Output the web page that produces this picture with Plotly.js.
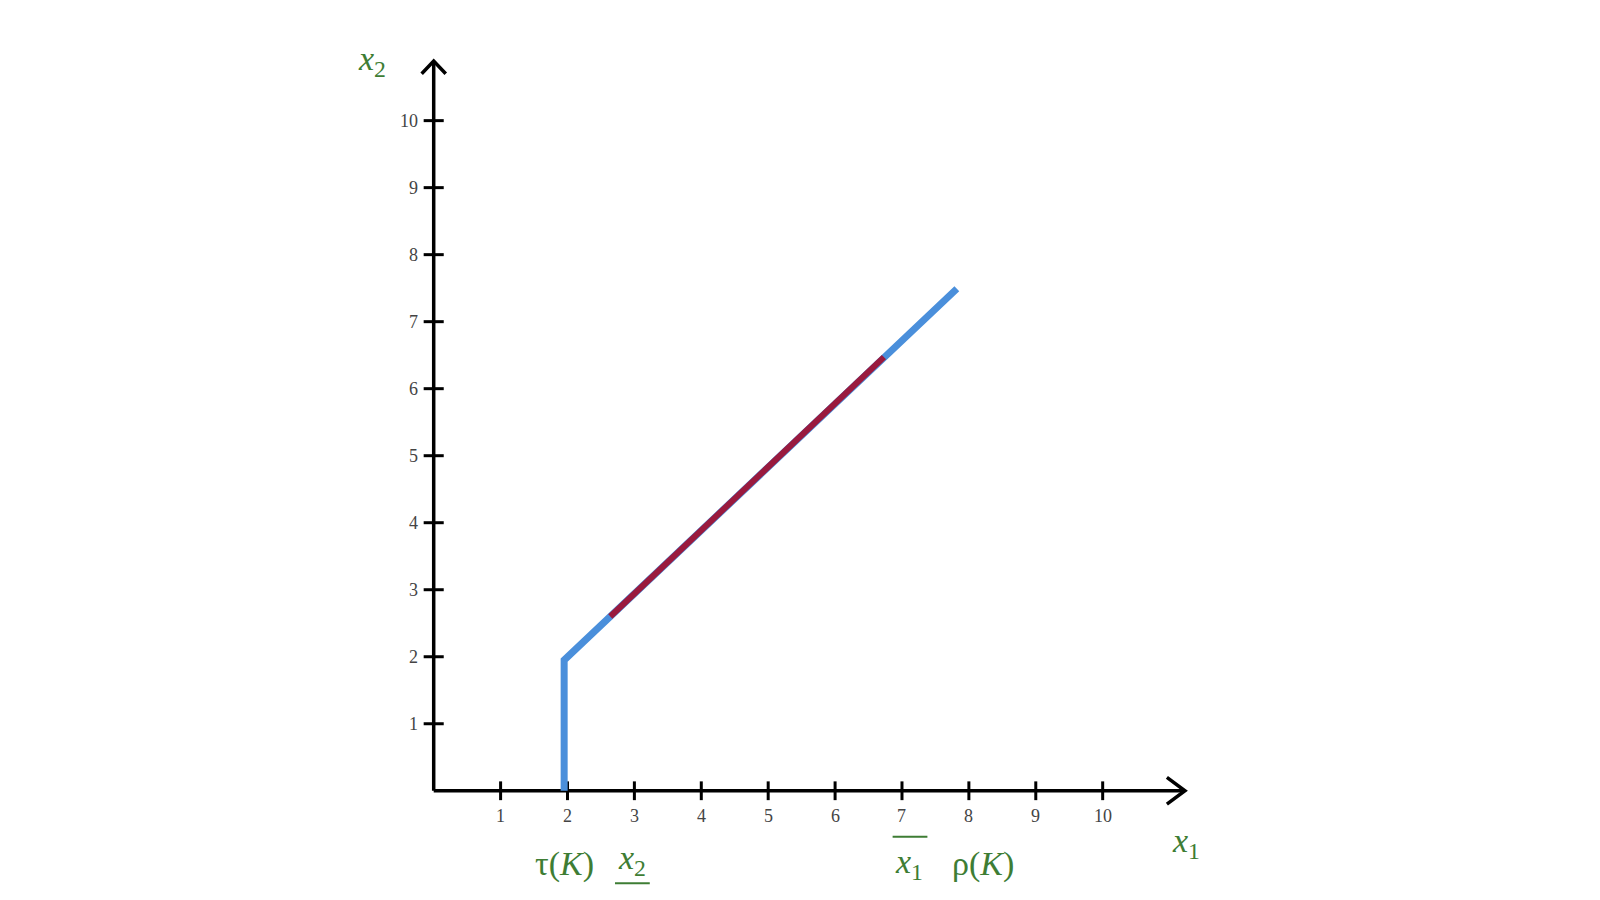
<!DOCTYPE html>
<html>
<head>
<meta charset="utf-8">
<script src="https://cdn.plot.ly/plotly-3.0.1.min.js"></script>
<style>
  html, body { margin: 0; padding: 0; background: #fff; }
  #plot { width: 1600px; height: 900px; }
</style>
</head>
<body>
<div id="plot"></div>
<script>
// tick values on both axes
var xTicks = [1, 2, 3, 4, 5, 6, 7, 8, 9, 10];
var yTicks = [1, 2, 3, 4, 5, 6, 7, 8, 9, 10];

// axis extents (arrow tips)
var xAxisEnd = 11.23;
var yAxisEnd = 10.89;

// the blue path: vertical piece then the diagonal
var pathX = [1.95, 1.95, 7.82];
var pathY = [0, 1.95, 7.49];

// red part of the diagonal
var redX = [2.64, 6.73];
var redY = [2.60, 6.47];

// green labels
var labelText = ['<i>x</i><sub>2</sub>', '<i>x</i><sub>1</sub>', 'τ(<i>K</i>)', '<i>x</i><sub>2</sub>', '<i>x</i><sub>1</sub>', 'ρ(<i>K</i>)'];
var labelX = [-0.92, 11.24, 1.95, 2.97, 7.10, 8.21];
var labelY = [10.89, -0.78, -1.09, -1.03, -1.09, -1.09];

// under/over bars for x2 and x1 bounds
var barX0 = [2.71, 6.86];
var barX1 = [3.23, 7.38];
var barY = [-1.38, -0.685];

var green = '#3e7d34';
var serif = 'Liberation Serif, DejaVu Serif, serif';

// tick marks as segments
var tickXs = [], tickXy = [];
xTicks.forEach(function(v) { tickXs.push(v, v, null); tickXy.push(-0.14, 0.14, null); });
var tickYx = [], tickYy = [];
yTicks.forEach(function(v) { tickYx.push(-0.15, 0.15, null); tickYy.push(v, v, null); });

var traces = [
    { x: [0, xAxisEnd], y: [0, 0], mode: 'lines', line: { color: '#000', width: 3.5 }, hoverinfo: 'skip' },
    { x: [0, 0], y: [0, yAxisEnd], mode: 'lines', line: { color: '#000', width: 3.5 }, hoverinfo: 'skip' },
    { x: tickXs, y: tickXy, mode: 'lines', line: { color: '#000', width: 3 }, hoverinfo: 'skip' },
    { x: tickYx, y: tickYy, mode: 'lines', line: { color: '#000', width: 3 }, hoverinfo: 'skip' },
    // arrowheads
    { x: [xAxisEnd - 0.27, xAxisEnd, xAxisEnd - 0.27], y: [0.2, 0, -0.2], mode: 'lines',
      line: { color: '#000', width: 3.5 }, hoverinfo: 'skip' },
    { x: [-0.18, 0, 0.18], y: [yAxisEnd - 0.19, yAxisEnd, yAxisEnd - 0.19], mode: 'lines',
      line: { color: '#000', width: 3.5 }, hoverinfo: 'skip' },
    { x: pathX, y: pathY, mode: 'lines', line: { color: '#4a8fdb', width: 7 }, hoverinfo: 'skip' },
    { x: redX, y: redY, mode: 'lines', line: { color: '#9a1a3e', width: 6 }, hoverinfo: 'skip' }
];

var annotations = [];
xTicks.forEach(function(v) {
    annotations.push({ x: v, y: -0.38, xref: 'x', yref: 'y', text: String(v), showarrow: false,
        font: { family: serif, size: 18, color: '#444' } });
});
yTicks.forEach(function(v) {
    annotations.push({ x: -0.2, y: v, xref: 'x', yref: 'y', text: String(v), showarrow: false,
        xanchor: 'right', font: { family: serif, size: 18, color: '#444' } });
});
labelText.forEach(function(t, i) {
    annotations.push({ x: labelX[i], y: labelY[i], xref: 'x', yref: 'y', text: t, showarrow: false,
        font: { family: serif, size: 34, color: green } });
});

var shapes = barX0.map(function(x0, i) {
    return { type: 'line', xref: 'x', yref: 'y', x0: x0, x1: barX1[i], y0: barY[i], y1: barY[i],
        line: { color: green, width: 2 } };
});

var layout = {
    width: 1600,
    height: 900,
    margin: { l: 0, r: 0, t: 0, b: 0 },
    paper_bgcolor: '#fff',
    plot_bgcolor: '#fff',
    showlegend: false,
    xaxis: { range: [-6.483, 17.434], visible: false, fixedrange: true },
    yaxis: { range: [-1.63, 11.80], visible: false, fixedrange: true },
    annotations: annotations,
    shapes: shapes
};

Plotly.newPlot('plot', traces, layout, { displayModeBar: false, staticPlot: true });
</script>
</body>
</html>
